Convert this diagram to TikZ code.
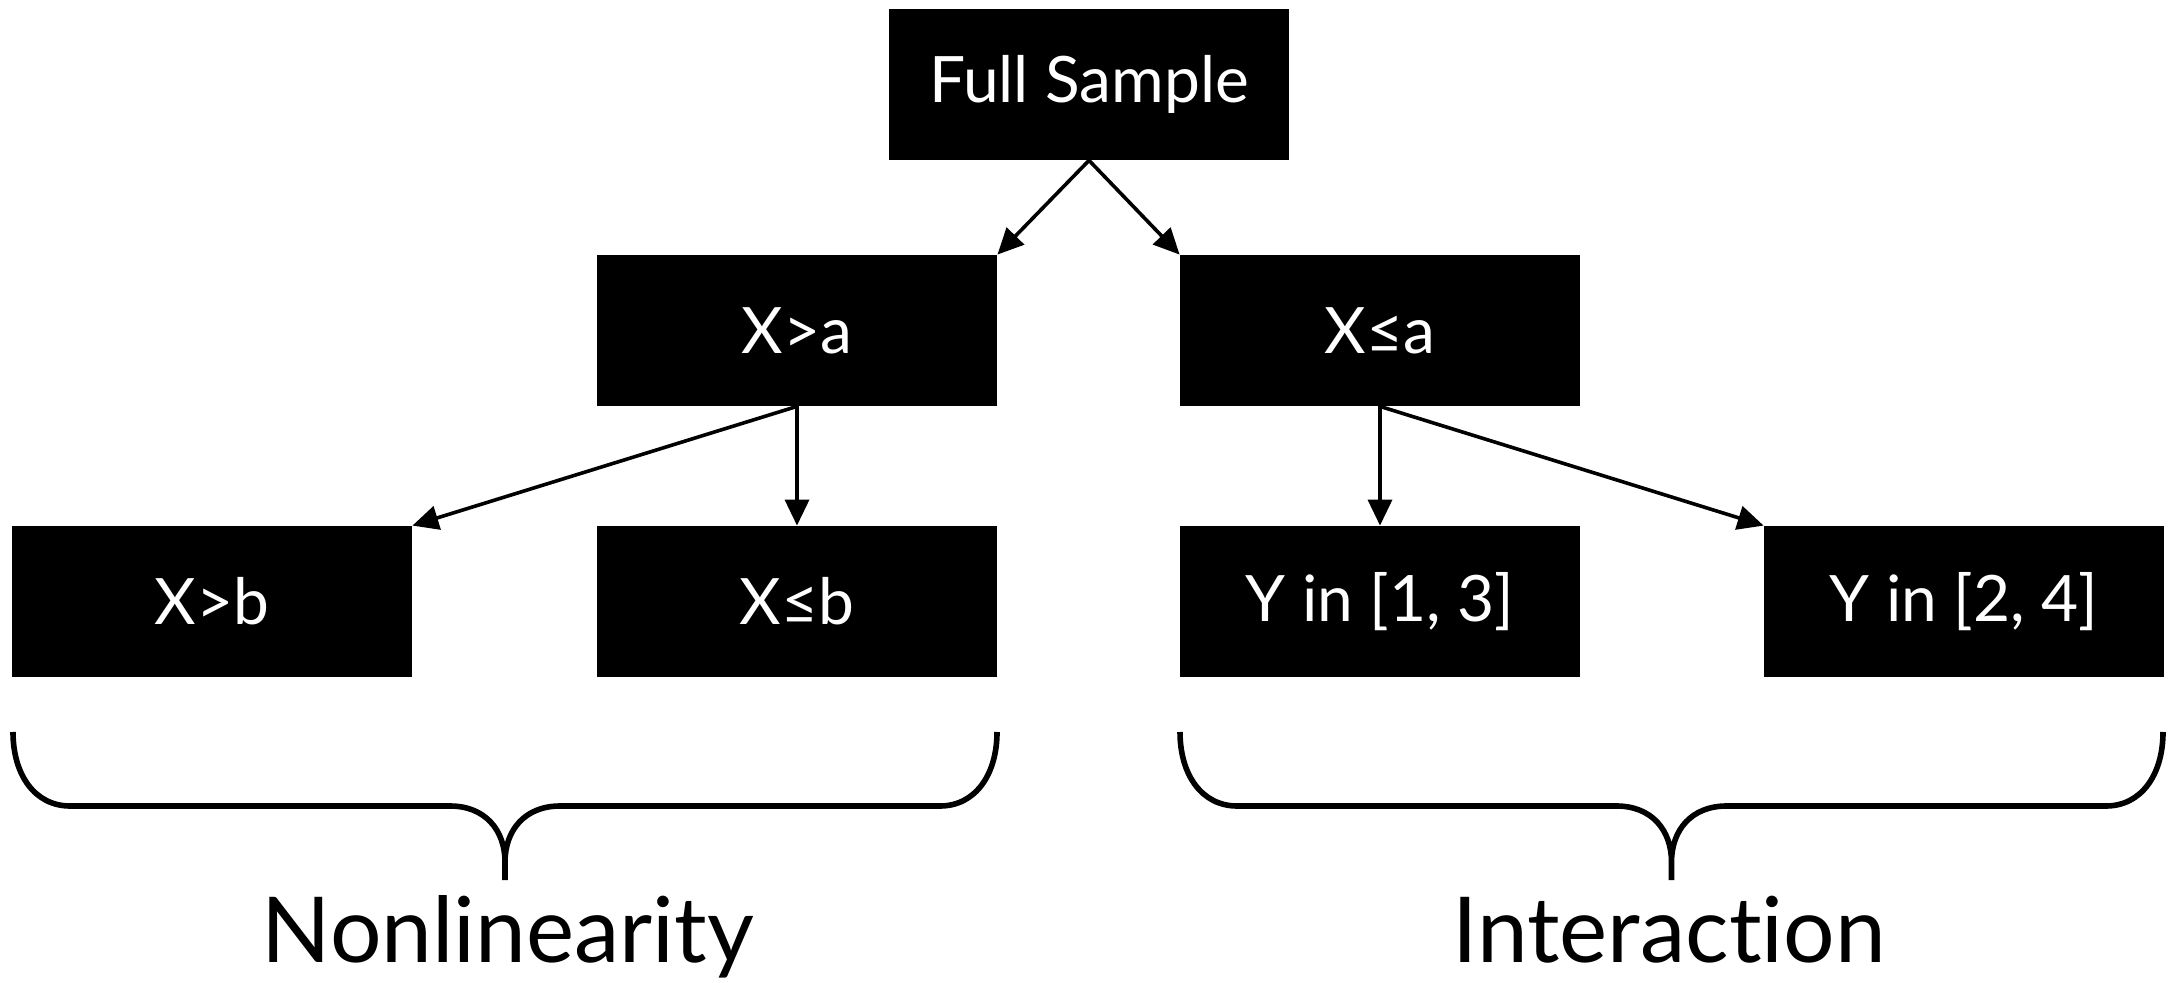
\documentclass[tikz,border=0pt]{standalone}
\usepackage{fontspec}
\setmainfont[Ligatures={NoCommon,NoRare}]{Lato}
\usetikzlibrary{arrows.meta}
\begin{document}
\begin{tikzpicture}[x=0.5pt,y=-0.5pt,
  box/.style={fill=black,text=white,minimum width=200pt,minimum height=75.5pt,inner sep=0pt,font=\fontsize{32}{34}\selectfont},
  conn/.style={line width=1.8pt,-{Triangle[length=13pt,width=12pt]}},
  bracel/.style={line width=2.8pt,line cap=butt},
  lab/.style={font=\fontsize{45.5}{50}\selectfont,anchor=base}]
\useasboundingbox (0,0) rectangle (2177,983);
\node[box] (fs) at (1089,84.5) {Full Sample};
\node[box] (xga) at (797,330.5) {X>a};
\node[box] (xla) at (1380,330.5) {X≤a};
\node[box] (xgb) at (212,601.5) {X>b};
\node[box] (xlb) at (797,601.5) {X≤b};
\node[box] (y13) at (1380,601.5) {Y in [1, 3]};
\node[box] (y24) at (1964,601.5) {Y in [2, 4]};
\draw[conn] (fs.south) -- (xga.north east);
\draw[conn] (fs.south) -- (xla.north west);
\draw[conn] (xga.south) -- (xgb.north east);
\draw[conn] (xga.south) -- (xlb.north);
\draw[conn] (xla.south) -- (y13.north);
\draw[conn] (xla.south) -- (y24.north west);
\coordinate (bl) at (505,880);
\coordinate (br) at (1671.5,880);
\draw[bracel] (13,732) .. controls (13,775) and (35,806) .. (70,806) -- (450,806)
  .. controls (485,806) and (505,830) .. (505,862) -- (bl) (505,862)
  .. controls (505,830) and (525,806) .. (560,806) -- (940,806)
  .. controls (975,806) and (997,775) .. (997,732);
\draw[bracel] (1180,732) .. controls (1180,775) and (1202,806) .. (1237,806) -- (1616.5,806)
  .. controls (1651.5,806) and (1671.5,830) .. (1671.5,862) -- (br) (1671.5,862)
  .. controls (1671.5,830) and (1691.5,806) .. (1726.5,806) -- (2106,806)
  .. controls (2141,806) and (2163,775) .. (2163,732);
\node[lab] (nl) at (508,962) {Nonlinearity};
\node[lab] (ia) at (1669,962) {Interaction};
\end{tikzpicture}
\end{document}
